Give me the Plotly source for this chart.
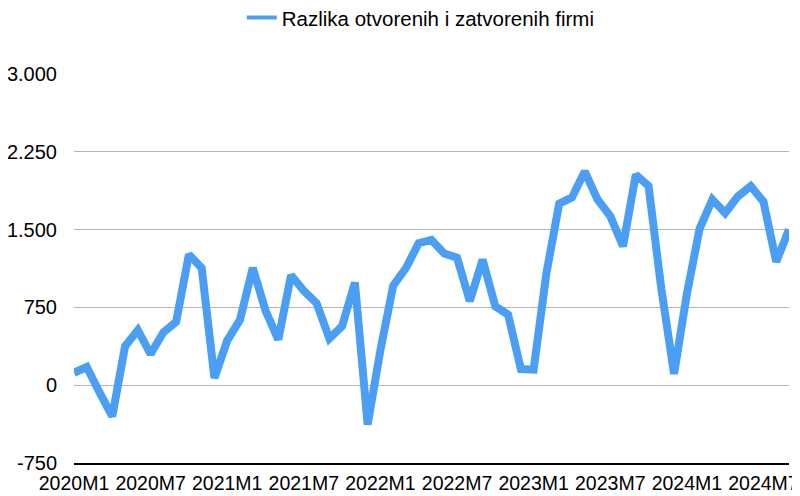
import plotly.graph_objects as go

months = [
    "2020M1", "2020M2", "2020M3", "2020M4", "2020M5", "2020M6", "2020M7", "2020M8", "2020M9", "2020M10", "2020M11", "2020M12",
    "2021M1", "2021M2", "2021M3", "2021M4", "2021M5", "2021M6", "2021M7", "2021M8", "2021M9", "2021M10", "2021M11", "2021M12",
    "2022M1", "2022M2", "2022M3", "2022M4", "2022M5", "2022M6", "2022M7", "2022M8", "2022M9", "2022M10", "2022M11", "2022M12",
    "2023M1", "2023M2", "2023M3", "2023M4", "2023M5", "2023M6", "2023M7", "2023M8", "2023M9", "2023M10", "2023M11", "2023M12",
    "2024M1", "2024M2", "2024M3", "2024M4", "2024M5", "2024M6", "2024M7", "2024M8", "2024M9",
]

razlika = [
    120, 175, -70, -300, 375, 530, 300, 510, 610, 1260, 1130, 70,
    430, 630, 1130, 720, 440, 1060, 910, 790, 450, 570, 990, -380,
    340, 960, 1130, 1370, 1400, 1270, 1230, 810, 1210, 760, 680, 155,
    150, 1080, 1750, 1810, 2060, 1790, 1630, 1340, 2030, 1920, 930, 110,
    880, 1510, 1790, 1660, 1820, 1920, 1770, 1190, 1500,
]

x_tick_labels = ["2020M1", "2020M7", "2021M1", "2021M7", "2022M1", "2022M7",
                 "2023M1", "2023M7", "2024M1", "2024M7"]
y_tick_vals = [-750, 0, 750, 1500, 2250, 3000]
y_tick_text = ["-750", "0", "750", "1.500", "2.250", "3.000"]

series_name = "Razlika otvorenih i zatvorenih firmi"
line_color = "#4A9FF5"

fig = go.Figure()
fig.add_trace(go.Scatter(
    x=months, y=razlika, mode="lines", name=series_name,
    line=dict(color=line_color, width=8),
    showlegend=False, hoverinfo="x+y",
))
# legend entry with a thinner stroke, like the reference legend key
fig.add_trace(go.Scatter(
    x=[None], y=[None], mode="lines", name=series_name,
    line=dict(color=line_color, width=4), showlegend=True,
))

font_family = "Liberation Sans, Arial, Helvetica, sans-serif"

# the page body adds an 8px offset, margins compensate for it
fig.update_layout(
    width=800, height=496,
    margin=dict(l=66, r=19, t=66, b=41, autoexpand=False),
    paper_bgcolor="white", plot_bgcolor="white",
    font=dict(family=font_family, size=20, color="#000000"),
    showlegend=True,
    legend=dict(
        orientation="h", x=0.485, xanchor="center", xref="paper",
        y=1.196, yanchor="top", yref="paper",
        font=dict(size=20.5), bgcolor="rgba(0,0,0,0)",
        itemwidth=30,
    ),
    xaxis=dict(
        type="category", range=[0, len(months) - 1], automargin=False,
        tickmode="array", tickvals=x_tick_labels, ticktext=x_tick_labels,
        showgrid=False, zeroline=False,
        showline=True, linecolor="#000000", linewidth=2,
        ticks="", ticklabelstandoff=2, tickangle=0,
        tickfont=dict(size=19.5),
    ),
    yaxis=dict(
        range=[-750, 3000], automargin=False,
        tickmode="array", tickvals=y_tick_vals, ticktext=y_tick_text,
        showgrid=True, gridcolor="#B5B5B5", gridwidth=1,
        zeroline=True, zerolinecolor="#B5B5B5", zerolinewidth=1,
        showline=False, ticks="", ticklabelstandoff=16,
        tickfont=dict(size=20),
    ),
)

fig.write_html("out.html")
